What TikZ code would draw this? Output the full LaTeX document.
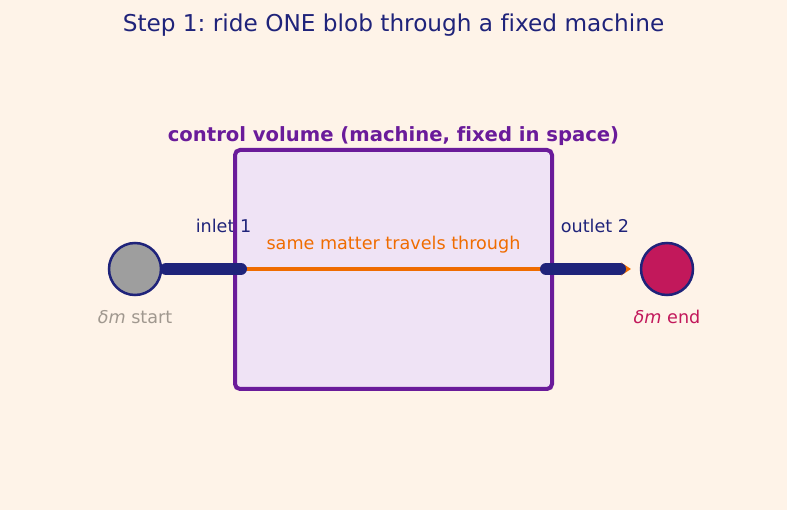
\documentclass[tikz,border=0pt]{standalone}
\usepackage{fontspec}
\setmainfont{DejaVu Sans}[Ligatures=NoCommon]
\usetikzlibrary{arrows.meta}
\frenchspacing
\definecolor{bg}{HTML}{FEF3E8}
\definecolor{navy}{HTML}{1F237A}
\definecolor{purp}{HTML}{6A1B9A}
\definecolor{cvfill}{HTML}{EFE3F5}
\definecolor{orng}{HTML}{EF6C00}
\definecolor{blobgray}{HTML}{9E9E9E}
\definecolor{startgray}{HTML}{A0988F}
\definecolor{mag}{HTML}{C2185B}
\tikzset{
  lbl/.style={inner sep=0pt, font=\fontsize{17.6}{20}\selectfont},
  blob/.style={circle, minimum size=52pt, inner sep=0pt, draw=navy, line width=2.5pt},
  pipe/.style={navy, line width=12pt, line cap=round},
  cvborder/.style={purp, line width=4pt, rounded corners=5pt},
}
\begin{document}
\begin{tikzpicture}[x=1pt,y=-1pt]
\frenchspacing
\fill[bg] (0,0) rectangle (787,510);
\useasboundingbox (0,0) rectangle (787,510);
\node[inner sep=0pt, text=navy, font=\fontsize{23.2}{26}\selectfont] (title) at (393.5,25) {Step 1: ride ONE blob through a fixed machine};
\fill[cvfill, rounded corners=5pt] (235,150) rectangle (552,389);
\node[inner sep=0pt, text=purp, font=\bfseries\fontsize{19.6}{22}\selectfont] (cvlabel) at (393.5,136.5) {control volume (machine, fixed in space)};
\node[blob, fill=blobgray] (b1) at (135,269) {};
\node[blob, fill=mag] (b2) at (667,269) {};
\coordinate (in1) at (166,269);
\coordinate (in2) at (241,269);
\coordinate (out1) at (546,269);
\coordinate (out2) at (620,269);
\coordinate (arrEnd) at (631,269);
\draw[orng, line width=3.5pt, -{Stealth[length=10pt,width=13pt]}] (in2) -- (arrEnd);
\node[lbl, text=navy] (inlet) at (223.5,226) {inlet 1};
\node[lbl, text=navy] (outlet) at (595,226) {outlet 2};
\node[lbl, text=orng] (same) at (393.5,245) {same matter travels through};
\node[lbl, text=startgray] (start) at (135,317) {{\itshape δm} start};
\node[lbl, text=mag] (end) at (667,317) {{\itshape δm} end};
\draw[cvborder] (235,150) rectangle (552,389);
\draw[pipe] (in1) -- (in2);
\draw[pipe] (out1) -- (out2);
\end{tikzpicture}
\end{document}
